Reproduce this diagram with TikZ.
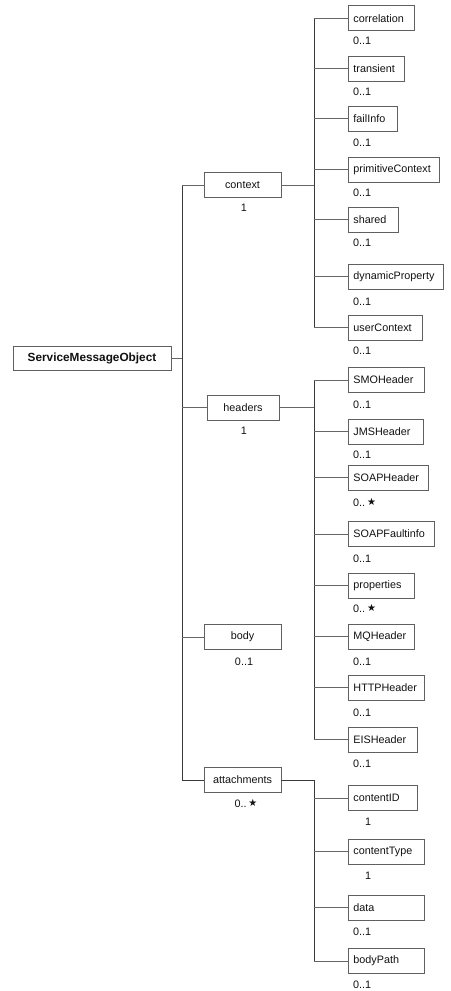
\documentclass[tikz,border=0pt]{standalone}
\usepackage{fontspec}
\setmainfont{Liberation Sans}
\newfontfamily\symfont{DejaVu Sans}
\definecolor{trunkc}{HTML}{3A3A3A}
\definecolor{stubc}{HTML}{666666}
\definecolor{boxc}{HTML}{606060}
\definecolor{txtc}{HTML}{111111}
\newcommand{\many}{0..\,{\symfont\fontsize{10}{10}\selectfont\raisebox{0.5pt}{★}}}
\tikzset{
  leaf/.style={draw=boxc, line width=0.9pt, anchor=west, minimum height=25pt,
    inner xsep=5pt, inner ysep=0pt, text width=#1, align=left,
    font=\fontsize{10.8}{12}\selectfont, text=txtc},
  mid/.style={draw=boxc, line width=0.9pt, minimum height=25pt, minimum width=#1,
    inner sep=0pt, font=\fontsize{10.8}{12}\selectfont, text=txtc},
  mult/.style={inner sep=0pt, font=\fontsize{10.8}{12}\selectfont, text=txtc},
  trunk/.style={draw=trunkc, line width=1pt},
  stub/.style={draw=stubc, line width=1pt},
}
\begin{document}
\begin{tikzpicture}[x=1pt,y=-1pt]
\useasboundingbox (0,0) rectangle (450,991);
% axis coordinates
\coordinate (mt) at (182,0);
\coordinate (ct) at (314,0);

% root
\node[draw=boxc, line width=0.9pt, minimum width=158pt, minimum height=24pt, inner sep=0pt,
  font=\bfseries\fontsize{11.8}{13}\selectfont, text=txtc] (smo) at (92,358) {ServiceMessageObject};

% mid level
\node[mid=77pt] (ctx) at (242.5,185) {context};
\node[mult, anchor=base] (ctxm) at (244,211) {1};
\node[mid=72pt] (hdr) at (243,407.5) {headers};
\node[mult, anchor=base] (hdrm) at (244,434) {1};
\node[mid=77pt] (body) at (242.5,637) {body};
\node[mult, anchor=base] (bodym) at (244,665) {0..1};
\node[mid=77pt] (att) at (242.5,780) {attachments};
\node[mult, anchor=base] (attm) at (246,807) {\many};

% context children
\node[leaf=56pt] (c1) at (348,18.2) {correlation};
\node[mult, anchor=base west] at (353,44.6) {0..1};
\node[leaf=46pt] (c2) at (348,68.5) {transient};
\node[mult, anchor=base west] at (353,95) {0..1};
\node[leaf=39pt] (c3) at (348,118.7) {failInfo};
\node[mult, anchor=base west] at (353,146) {0..1};
\node[leaf=81pt] (c4) at (348,169.5) {primitiveContext};
\node[mult, anchor=base west] at (353,196) {0..1};
\node[leaf=40pt] (c5) at (348,219.5) {shared};
\node[mult, anchor=base west] at (353,246) {0..1};
\node[leaf=85pt] (c6) at (348,276.5) {dynamicProperty};
\node[mult, anchor=base west] at (353,305) {0..1};
\node[leaf=64pt] (c7) at (348,327.5) {userContext};
\node[mult, anchor=base west] at (353,354) {0..1};

% headers children
\node[leaf=66pt] (h1) at (348,380) {SMOHeader};
\node[mult, anchor=base west] at (353,408) {0..1};
\node[leaf=65pt] (h2) at (348,431.5) {JMSHeader};
\node[mult, anchor=base west] at (353,458) {0..1};
\node[leaf=70pt] (h3) at (348,477.5) {SOAPHeader};
\node[mult, anchor=base west] at (353,506) {\many};
\node[leaf=76pt] (h4) at (348,534) {SOAPFaultinfo};
\node[mult, anchor=base west] at (353,562) {0..1};
\node[leaf=56pt] (h5) at (348,585.5) {properties};
\node[mult, anchor=base west] at (353,612) {\many};
\node[leaf=56pt] (h6) at (348,636.5) {MQHeader};
\node[mult, anchor=base west] at (353,665) {0..1};
\node[leaf=66pt] (h7) at (348,687.5) {HTTPHeader};
\node[mult, anchor=base west] at (353,716) {0..1};
\node[leaf=59pt] (h8) at (348,739.5) {EISHeader};
\node[mult, anchor=base west] at (353,767) {0..1};

% attachment children
\node[leaf=59pt] (a1) at (348,798) {contentID};
\node[mult, anchor=base] at (368,825) {1};
\node[leaf=66pt] (a2) at (348,851.5) {contentType};
\node[mult, anchor=base] at (368,879) {1};
\node[leaf=66pt] (a3) at (348,907.5) {data};
\node[mult, anchor=base west] at (353,935) {0..1};
\node[leaf=66pt] (a4) at (348,961) {bodyPath};
\node[mult, anchor=base west] at (353,988) {0..1};

% root connectors
\draw[stub] (smo.east) -- (smo.east -| mt);
\draw[trunk] (ctx.west -| mt) -- (att.west -| mt);
\draw[stub] (ctx.west) -- (ctx.west -| mt);
\draw[stub] (hdr.west) -- (hdr.west -| mt);
\draw[stub] (body.west) -- (body.west -| mt);
\draw[trunk] (att.west) -- (att.west -| mt);

% context connectors
\draw[stub] (ctx.east) -- (ctx.east -| ct);
\draw[trunk] (c1.west -| ct) -- (c7.west -| ct);
\foreach \n in {c1,c2,c3,c4,c5,c6,c7} \draw[stub] (\n.west) -- (\n.west -| ct);

% headers connectors
\draw[stub] (hdr.east) -- (hdr.east -| ct);
\draw[trunk] (h1.west -| ct) -- (h8.west -| ct);
\foreach \n in {h1,h2,h3,h4,h5,h6,h7,h8} \draw[stub] (\n.west) -- (\n.west -| ct);

% attachments connectors
\draw[trunk] (att.east) -- (att.east -| ct) -- (a4.west -| ct);
\foreach \n in {a1,a2,a3,a4} \draw[stub] (\n.west) -- (\n.west -| ct);
\end{tikzpicture}
\end{document}
